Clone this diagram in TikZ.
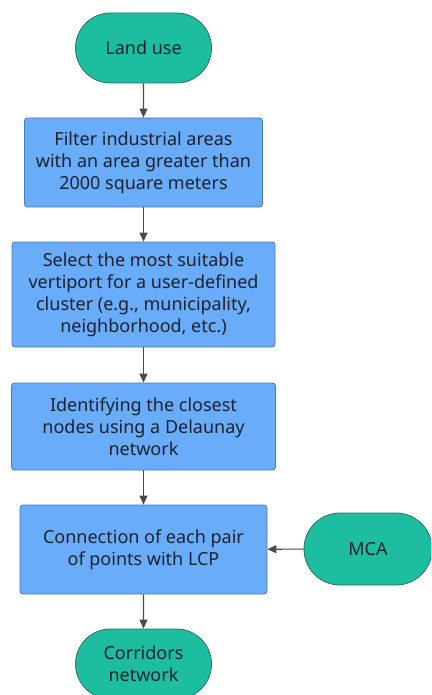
\documentclass[tikz,border=0pt]{standalone}
\usepackage{fontspec}
\setmainfont{Noto Sans}
\usetikzlibrary{arrows.meta,shapes.misc,positioning}
\definecolor{paper}{HTML}{FFFFFF}
\definecolor{ink}{HTML}{1D2230}
\definecolor{wire}{HTML}{474A50}
\definecolor{term}{HTML}{1DBE9F}
\definecolor{termline}{HTML}{2F6E60}
\definecolor{proc}{HTML}{69ACFA}
\definecolor{procline}{HTML}{4A78B8}
\newcommand{\MidX}{143.5}

\begin{document}
\begin{tikzpicture}[
    x=1pt, y=-1pt,
    font=\fontsize{18}{22}\selectfont, ink,
    edge/.style={-{Triangle[length=9pt, width=8pt]}, line width=1.1pt, draw=wire},
    terminal/.style={rounded rectangle, draw=termline, line width=0.8pt, fill=term, minimum width=140pt, minimum height=70pt, align=center, inner sep=2pt},
    process/.style={draw=procline, line width=0.8pt, fill=proc, rounded corners=3pt, align=center, inner sep=2pt},
  ]

\clip (0,0) rectangle (431,695);
\fill[paper] (0,0) rectangle (431,695);

% --- Main column: input, the four steps, output ------------------------------
\node[terminal] (landuse) at (\MidX, 48) {Land use};
\node[process, minimum width=238pt, minimum height=89pt] (filter) at (\MidX, 162.5)
  {Filter industrial areas\\with an area greater than\\2000 square meters};
\node[process, minimum width=263pt, minimum height=105pt] (select) at (\MidX, 294.5)
  {Select the most suitable\\vertiport for a user-defined\\cluster (e.g., municipality,\\neighborhood, etc.)};
\node[process, minimum width=264pt, minimum height=87pt] (delaunay) at (\MidX, 426.5)
  {Identifying the closest\\nodes using a Delaunay\\network};
\node[process, minimum width=247pt, minimum height=89pt] (lcp) at (\MidX, 549.5)
  {Connection of each pair\\of points with LCP};
\node[terminal] (corridors) at (\MidX, 664) {Corridors\\network};

% --- Side input ---------------------------------------------------------------
\node[terminal, minimum width=132pt, minimum height=72pt] (mca) at (368, 549) {MCA};

% --- Arrows -------------------------------------------------------------------
\draw[edge] (landuse) -- (filter);
\draw[edge] (filter) -- (select);
\draw[edge] (select) -- (delaunay);
\draw[edge] (delaunay) -- (lcp);
\draw[edge] (lcp) -- (corridors);
\draw[edge] (mca) -- (lcp);

\end{tikzpicture}
\end{document}
